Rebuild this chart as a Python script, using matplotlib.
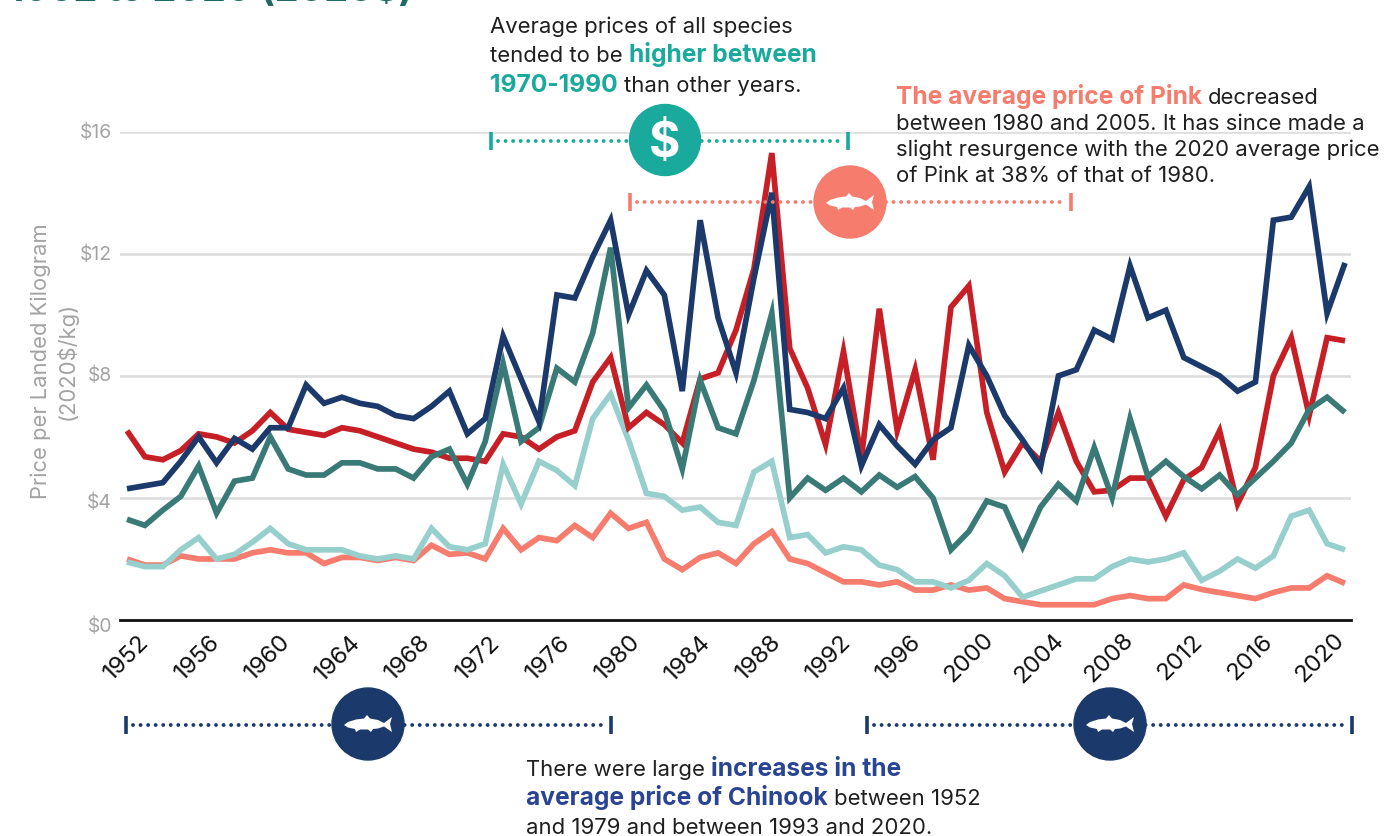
import matplotlib
matplotlib.use('Agg')
import matplotlib.pyplot as plt
from matplotlib.patches import Circle, Polygon

# years and price per landed kg for each species
years = list(range(1952, 2021))
chinook = [4.3, 4.4, 4.5, 5.2, 6.0, 5.15, 5.95, 5.6, 6.3, 6.3, 7.7, 7.1, 7.3, 7.1, 7.0, 6.7, 6.6, 7.0, 7.5, 6.1,
           6.6, 9.3, 7.9, 6.5, 10.65, 10.55, 11.9, 13.1, 10.0, 11.45, 10.65, 7.5, 13.1, 9.9, 8.1, 11.2, 14.0, 6.9,
           6.8, 6.6, 7.6, 5.05, 6.4, 5.7, 5.1, 5.9, 6.3, 9.0, 8.0, 6.7, 5.9, 5.0, 8.0, 8.2, 9.5, 9.2, 11.6, 9.9,
           10.15, 8.6, 8.3, 8.0, 7.5, 7.8, 13.1, 13.2, 14.2, 10.05, 11.7]
sockeye = [6.2, 5.35, 5.25, 5.55, 6.1, 6.0, 5.8, 6.2, 6.8, 6.25, 6.15, 6.05, 6.3, 6.2, 6.0, 5.8, 5.6, 5.5, 5.3, 5.3,
           5.2, 6.1, 6.0, 5.6, 6.0, 6.2, 7.8, 8.6, 6.3, 6.8, 6.4, 5.8, 7.9, 8.1, 9.5, 11.5, 15.3, 8.9,
           7.6, 5.75, 8.8, 5.3, 10.2, 6.2, 8.2, 5.25, 10.25, 10.95, 6.8, 4.85, 5.8, 5.2, 6.8, 5.2, 4.2, 4.25, 4.65, 4.65,
           3.4, 4.6, 5.0, 6.2, 3.8, 5.0, 8.0, 9.25, 6.7, 9.25, 9.15]
coho = [3.3, 3.1, 3.6, 4.05, 5.05, 3.5, 4.55, 4.65, 6.0, 4.95, 4.75, 4.75, 5.15, 5.15, 4.95, 4.95, 4.65, 5.35, 5.6, 4.45,
        5.85, 8.4, 5.85, 6.3, 8.25, 7.8, 9.4, 12.2, 6.95, 7.7, 6.85, 4.95, 7.85, 6.3, 6.1, 7.85, 10.05, 4.0,
        4.65, 4.25, 4.65, 4.2, 4.75, 4.35, 4.7, 4.0, 2.3, 2.9, 3.9, 3.7, 2.4, 3.7, 4.45, 3.9, 5.65, 4.0, 6.6, 4.7,
        5.2, 4.7, 4.3, 4.75, 4.1, 4.65, 5.2, 5.8, 6.9, 7.3, 6.8]
chum = [1.9, 1.75, 1.75, 2.3, 2.7, 2.0, 2.15, 2.55, 3.0, 2.5, 2.3, 2.3, 2.3, 2.1, 2.0, 2.1, 2.0, 3.0, 2.4, 2.3,
        2.5, 5.1, 3.8, 5.2, 4.9, 4.4, 6.6, 7.4, 5.9, 4.15, 4.05, 3.6, 3.7, 3.2, 3.1, 4.85, 5.2, 2.7,
        2.8, 2.2, 2.4, 2.3, 1.8, 1.65, 1.25, 1.25, 1.05, 1.3, 1.85, 1.45, 0.75, 0.95, 1.15, 1.35, 1.35, 1.75, 2.0, 1.9,
        2.0, 2.2, 1.3, 1.6, 2.0, 1.7, 2.1, 3.4, 3.6, 2.5, 2.3]
pink = [2.0, 1.8, 1.8, 2.1, 2.0, 2.0, 2.0, 2.2, 2.3, 2.2, 2.2, 1.85, 2.05, 2.05, 1.95, 2.05, 1.95, 2.45, 2.15, 2.2,
        2.0, 3.0, 2.3, 2.7, 2.6, 3.1, 2.7, 3.5, 3.0, 3.2, 2.0, 1.65, 2.05, 2.2, 1.85, 2.5, 2.9, 2.0,
        1.85, 1.55, 1.25, 1.25, 1.15, 1.25, 0.98, 0.98, 1.15, 0.98, 1.05, 0.7, 0.6, 0.5, 0.5, 0.5, 0.5, 0.7, 0.8, 0.7,
        0.7, 1.15, 1.0, 0.9, 0.8, 0.7, 0.9, 1.05, 1.05, 1.45, 1.2]

year_ticks = list(range(1952, 2021, 4))
price_ticks = [0, 4, 8, 12, 16]
price_labels = ['$0', '$4', '$8', '$12', '$16']

NAVY = '#1b3a6b'
RED = '#c71f26'
TEAL = '#3a7a76'
LIGHT = '#97cfcd'
PINK = '#f67c6e'
GREEN = '#1aaa9d'
BLUE_TEXT = '#2a4494'
INK = '#1f1f1f'
GREY = '#a3a3a3'

W, H = 1391, 837
PT = 0.72  # px to pt at dpi 100
BODY = 22.1
BOLD = 24.6

plt.rcParams['font.family'] = ['Inter', 'DejaVu Sans']

fig = plt.figure(figsize=(W / 100, H / 100), dpi=100)

# main chart, placed by pixel box
left, right, top, bottom = 120, 1351, 132.7, 621
ax = fig.add_axes([left / W, 1 - bottom / H, (right - left) / W, (bottom - top) / H])
px_year = (1345 - 127) / 68
ax.set_xlim(1952 - (127 - left) / px_year, 2020 + (right - 1345) / px_year)
ax.set_ylim(0, 16)
for s in ['top', 'right', 'left']:
    ax.spines[s].set_visible(False)
ax.spines['bottom'].set_linewidth(2.0)
ax.spines['bottom'].set_color('#111111')
ax.set_yticks(price_ticks)
ax.set_xticks(year_ticks)
ax.tick_params(length=0, labelleft=False, labelbottom=False)
ax.grid(axis='y', color='#dddddd', lw=1.9)
ax.set_axisbelow(True)

for series, col in [(pink, PINK), (chum, LIGHT), (sockeye, RED), (coho, TEAL), (chinook, NAVY)]:
    ax.plot(years, series, color=col, lw=4.1, solid_joinstyle='miter', solid_capstyle='butt', clip_on=False, zorder=3)

# overlay in pixel coordinates for labels and callouts
ov = fig.add_axes([0, 0, 1, 1], zorder=5)
ov.set_xlim(0, W)
ov.set_ylim(H, 0)
ov.axis('off')
ov.patch.set_alpha(0)

# tick labels sit a little off the ticks in the original
for i, yr in enumerate(year_ticks):
    ov.text(127 + i * (1320 - 127) / 17, 658, str(yr), rotation=45, ha='center', va='center',
            fontsize=24 * PT, color='#111111')
for lab, y in zip(price_labels, [627, 503, 376, 255, 133]):
    ov.text(112, y, lab, ha='right', va='center', fontsize=19.3 * PT, color=GREY)
ov.text(41, 361, 'Price per Landed Kilogram', rotation=90, ha='center', va='center', fontsize=22 * PT, color=GREY)
ov.text(67, 361, '(2020$/kg)', rotation=90, ha='center', va='center', fontsize=22 * PT, color=GREY)


# draws a line of text made of (string, bold, colour) pieces
def text_line(x, y, pieces):
    rend = fig.canvas.get_renderer()
    for s, bold, col in pieces:
        t = ov.text(x, y, s, ha='left', va='baseline', fontsize=(BOLD if bold else BODY) * PT, color=col,
                    fontweight='bold' if bold else 'normal')
        x += t.get_window_extent(rend).width


# draws a dotted range with end ticks
def range_bar(x0, x1, y, col):
    ov.plot([x0 + 7, x1 - 5], [y, y], color=col, lw=2.8, dashes=(0.01, 1.93), dash_capstyle='round')
    for x in (x0, x1):
        ov.plot([x, x], [y - 9, y + 9], color=col, lw=2.6, solid_capstyle='butt')


# white fish silhouette centred on cx, cy
def fish(cx, cy):
    shape = [(-24, 1), (-20, -2), (-12, -4.5), (-4, -5.5), (-1, -9), (2, -5.5), (10, -4), (16, -1), (24, -7),
             (22, 0), (24, 8), (16, 2.5), (10, 4.5), (5, 5), (3, 8), (0, 5.5), (-8, 5.5), (-12, 8), (-13, 5), (-20, 3.5)]
    ov.add_patch(Polygon([(cx + a, cy + b) for a, b in shape], closed=True, color='white', lw=0, zorder=7))


range_bar(491, 848, 142, GREEN)
ov.add_patch(Circle((665, 141), 35.5, color=GREEN, zorder=6))
ov.text(665, 144, '$', ha='center', va='center', fontsize=48 * PT, color='white', fontweight='bold', zorder=7)

range_bar(630, 1071, 203, PINK)
ov.add_patch(Circle((850, 203), 36, color=PINK, zorder=6))
fish(850, 203)

range_bar(126, 611, 726, NAVY)
ov.add_patch(Circle((368, 725), 36, color=NAVY, zorder=6))
fish(368, 725)

range_bar(867, 1352, 726, NAVY)
ov.add_patch(Circle((1110, 725), 36, color=NAVY, zorder=6))
fish(1110, 725)

# title is cut off by the top edge
ov.text(8, 1, '1952 to 2020 (2020$)', ha='left', va='baseline', fontsize=38 * PT, color='#1f6b63', fontweight='bold')

text_line(490, 33, [('Average prices of all species', False, INK)])
text_line(490, 62, [('tended to be ', False, INK), ('higher between', True, GREEN)])
text_line(490, 92, [('1970-1990 ', True, GREEN), ('than other years.', False, INK)])

text_line(896, 104, [('The average price of Pink ', True, PINK), ('decreased', False, INK)])
text_line(896, 130, [('between 1980 and 2005. It has since made a', False, INK)])
text_line(896, 156, [('slight resurgence with the 2020 average price', False, INK)])
text_line(896, 182, [('of Pink at 38% of that of 1980.', False, INK)])

text_line(526, 776, [('There were large ', False, INK), ('increases in the', True, BLUE_TEXT)])
text_line(526, 805, [('average price of Chinook ', True, BLUE_TEXT), ('between 1952', False, INK)])
text_line(526, 834, [('and 1979 and between 1993 and 2020.', False, INK)])

fig.savefig('out.png', dpi=100)
